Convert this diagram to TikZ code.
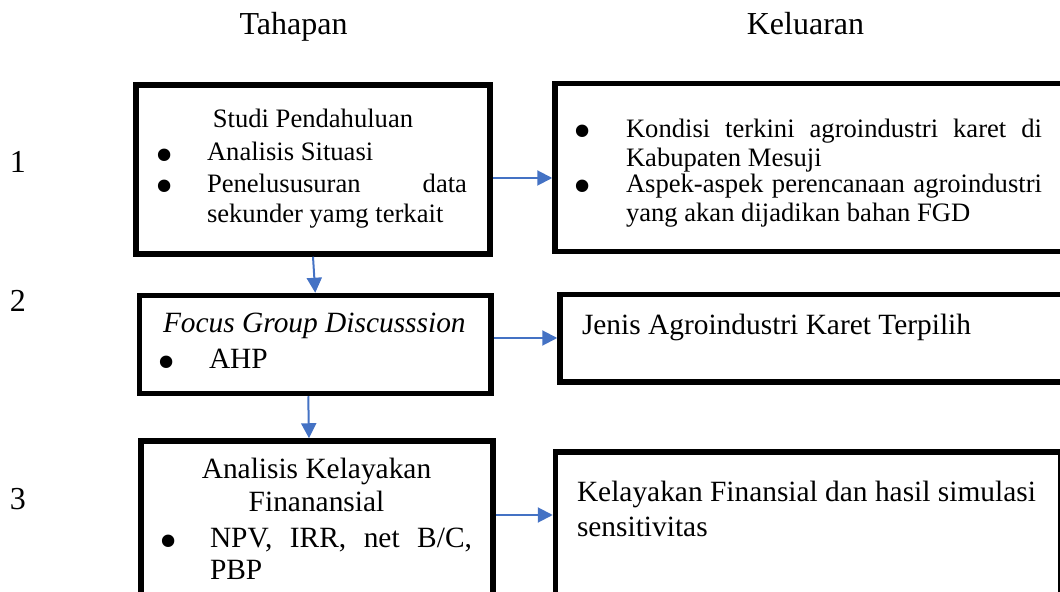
\documentclass[tikz,border=0pt]{standalone}
\usepackage{fontspec}
\setmainfont{Liberation Serif}
\usetikzlibrary{arrows.meta,calc}
\definecolor{arrblue}{RGB}{68,114,196}
\newcommand{\diagfont}{\fontsize{14.7}{16}\selectfont}
\newcommand{\smallfont}{\fontsize{13.3}{15}\selectfont}
\newcommand{\headfont}{\fontsize{16}{18}\selectfont}
\begin{document}
\begin{tikzpicture}[x=0.5pt,y=-0.5pt,
  box/.style={draw=black, line width=2.75pt, inner sep=0pt, rectangle},
  txt/.style={inner sep=0pt, outer sep=0pt, anchor=base west, font=\diagfont},
  txtc/.style={inner sep=0pt, outer sep=0pt, anchor=base, font=\diagfont},
  txte/.style={inner sep=0pt, outer sep=0pt, anchor=base east, font=\diagfont},
  head/.style={inner sep=0pt, outer sep=0pt, anchor=base, font=\headfont},
  bul/.style={inner sep=0pt, outer sep=0pt, anchor=center, font=\fontsize{26}{26}\selectfont},
  arr/.style={draw=arrblue, line width=1pt, -{Triangle[length=7.5pt,width=7.5pt]}}]
\useasboundingbox (0,0) rectangle (1060,592);
\clip (0,0) rectangle (1060,592);

% headings
\node[head] (h1) at (293.5,35) {Tahapan};
\node[head] (h2) at (805.5,35) {Keluaran};
\node[head] (n1) at (18,173) {1};
\node[head] (n2) at (18,312) {2};
\node[head] (n3) at (18,510) {3};

% boxes
\node[box, minimum width=177pt, minimum height=84.5pt] (l1) at (313,169.5) {};
\node[box, minimum width=262.5pt, minimum height=84pt] (r1) at (817.5,167.5) {};
\node[box, minimum width=175.75pt, minimum height=49pt] (l2) at (315.25,344.5) {};
\node[box, minimum width=260pt, minimum height=43.75pt] (r2) at (820,338.25) {};
\node[box, minimum width=176pt, minimum height=89.5pt] (l3) at (317,530.5) {};
\node[box, minimum width=252.75pt, minimum height=89pt] (r3) at (808.25,541) {};

% box l1 text
\node[txtc, font=\smallfont] (l1a) at (313,128) {Studi Pendahuluan};
\node[bul] (l1b1) at (165,161) {\textbullet};
\node[txt, font=\smallfont] (l1b) at (207,161) {Analisis Situasi};
\node[bul] (l1c1) at (165,192) {\textbullet};
\node[txt, font=\smallfont] (l1c) at (207,193) {Penelususuran};
\node[txte, font=\smallfont] (l1d) at (467,193) {data};
\node[txt, font=\smallfont] (l1e) at (207,223) {sekunder yamg terkait};

% box r1 text
\node[bul] (r1a1) at (583,137) {\textbullet};
\node[txt, font=\smallfont] (r1a) at (626,138) {\makebox[208pt][s]{Kondisi terkini agroindustri karet di}};
\node[txt, font=\smallfont] (r1b) at (626,167) {Kabupaten Mesuji};
\node[bul] (r1c1) at (583,192) {\textbullet};
\node[txt, font=\smallfont] (r1c) at (626,193) {\makebox[208pt][s]{Aspek-aspek perencanaan agroindustri}};
\node[txt, font=\smallfont] (r1d) at (626,222) {yang akan dijadikan bahan FGD};

% box l2 text
\node[txt] (l2a) at (163,333) {\itshape Focus Group Discusssion};
\node[bul] (l2b1) at (167,368) {\textbullet};
\node[txt] (l2b) at (209,369) {AHP};

% box r2 text
\node[txt] (r2a) at (582,335) {Jenis Agroindustri Karet Terpilih};

% box l3 text
\node[txtc] (l3a) at (316.5,479) {Analisis Kelayakan};
\node[txtc] (l3b) at (316.5,512) {Finanansial};
\node[bul] (l3c1) at (169,547) {\textbullet};
\node[txt] (l3c) at (210,548) {\makebox[131pt][s]{NPV, IRR, net B/C,}};
\node[txt] (l3d) at (210,580) {PBP};

% box r3 text
\node[txt] (r3a) at (577,502) {Kelayakan Finansial dan hasil simulasi};
\node[txt] (r3b) at (577,537) {sensitivitas};

% connectors
\coordinate (a1) at ($(l1.east)+(0,8.5)$);
\draw[arr] (a1) -- (a1 -| r1.west);
\coordinate (a2) at ($(l2.east)+(0,-6.5)$);
\draw[arr] (a2) -- (a2 -| r2.west);
\coordinate (a3) at ($(l3.east)+(0,-15.5)$);
\draw[arr] (a3) -- (a3 -| r3.west);
\draw[arr] (l1.south) -- (l2.north);
\draw[arr] ($(l2.south)+(-7,0)$) -- ($(l3.north)+(-8,0)$);
\end{tikzpicture}
\end{document}
